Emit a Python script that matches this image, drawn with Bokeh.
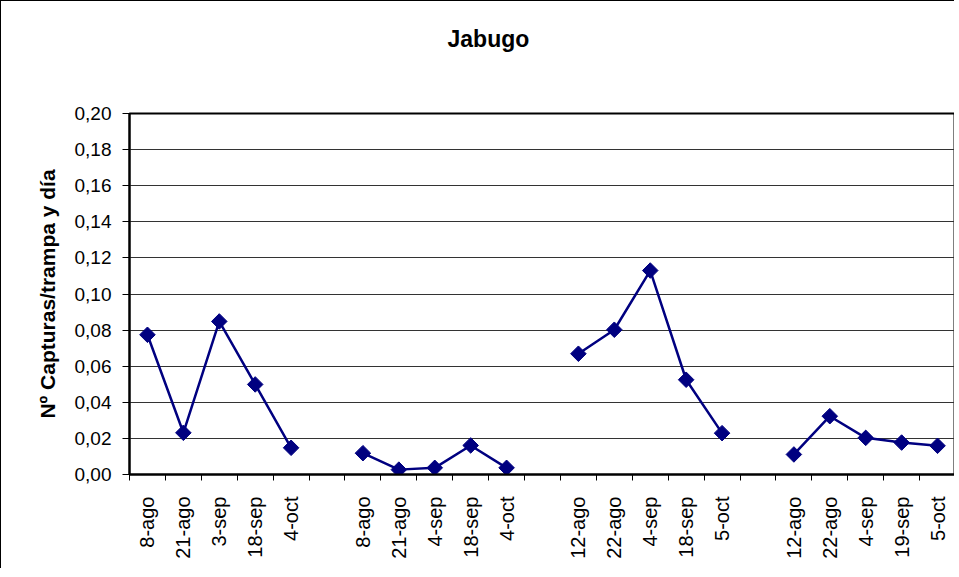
import math
from bokeh.plotting import figure
from bokeh.models import FixedTicker, CustomJSTickFormatter, Range1d, Title
from bokeh.embed import file_html
from bokeh.resources import INLINE

# ---------------- data ----------------
chart_title = "Jabugo"
y_label = "Nº Capturas/trampa y día"

group1_dates = ["8-ago", "21-ago", "3-sep", "18-sep", "4-oct"]
group1_vals = [0.0774, 0.0231, 0.0848, 0.0499, 0.0148]

group2_dates = ["8-ago", "21-ago", "4-sep", "18-sep", "4-oct"]
group2_vals = [0.0118, 0.0027, 0.0037, 0.0161, 0.0037]

group3_dates = ["12-ago", "22-ago", "4-sep", "18-sep", "5-oct"]
group3_vals = [0.0669, 0.0802, 0.1130, 0.0525, 0.0229]

group4_dates = ["12-ago", "22-ago", "4-sep", "19-sep", "5-oct"]
group4_vals = [0.0111, 0.0323, 0.0203, 0.0177, 0.0159]

y_ticks = [0.00, 0.02, 0.04, 0.06, 0.08, 0.10, 0.12, 0.14, 0.16, 0.18, 0.20]

groups = [(group1_dates, group1_vals), (group2_dates, group2_vals),
          (group3_dates, group3_vals), (group4_dates, group4_vals)]

# category slots: each group followed by one empty slot (except the last)
labels = []
group_x = []
for gi, (dates, vals) in enumerate(groups):
    xs = []
    for d in dates:
        xs.append(len(labels) + 0.5)
        labels.append(d)
    group_x.append(xs)
    if gi < len(groups) - 1:
        labels.append("")
n_slots = len(labels)

FONT = "Liberation Sans"
NAVY = "#000080"

p = figure(width=954, height=568, output_backend="svg", toolbar_location=None,
           x_range=Range1d(0, n_slots), y_range=Range1d(y_ticks[0], y_ticks[-1]),
           min_border_left=128, min_border_right=0, min_border_top=112,
           min_border_bottom=95)
p.styles = {"border-left": "1px solid black", "border-top": "1px solid black"}

p.background_fill_color = "white"
p.border_fill_color = "white"
p.outline_line_color = "black"
p.outline_line_width = 2

# spacer between title and frame
p.add_layout(Title(text=" ", text_font_size="1px", standoff=54), "above")

# title
p.title.text = chart_title
p.title.align = "left"
p.title.offset = 318
p.title.standoff = 10
p.title.text_font = FONT
p.title.text_font_size = "23px"
p.title.text_font_style = "bold"
p.title.text_color = "black"

# x axis
centers = [i + 0.5 for i in range(n_slots)]
bounds = list(range(n_slots + 1))
xax = p.xaxis[0]
xax.ticker = FixedTicker(ticks=centers, minor_ticks=bounds)
xax.major_label_overrides = {c: lab for c, lab in zip(centers, labels)}
xax.major_tick_out = 0
xax.major_tick_in = 0
xax.minor_tick_out = 6
xax.minor_tick_in = 0
xax.minor_tick_line_color = "black"
xax.axis_line_color = "black"
xax.axis_line_width = 2
xax.major_label_orientation = math.pi / 2
xax.major_label_standoff = 16
xax.major_label_text_font = FONT
xax.major_label_text_font_size = "20px"
xax.major_label_text_color = "black"

# y axis
yax = p.yaxis[0]
yax.ticker = FixedTicker(ticks=y_ticks, minor_ticks=[])
yax.formatter = CustomJSTickFormatter(code="return tick.toFixed(2).replace('.', ',');")
yax.major_tick_out = 7
yax.major_tick_in = 0
yax.major_tick_line_color = "black"
yax.axis_line_color = "black"
yax.axis_line_width = 2
yax.major_label_standoff = 11
yax.major_label_text_font = FONT
yax.major_label_text_font_size = "19px"
yax.major_label_text_color = "black"
yax.axis_label = y_label
yax.axis_label_text_font = FONT
yax.axis_label_text_font_size = "21px"
yax.axis_label_text_font_style = "bold"
yax.axis_label_text_color = "black"
yax.axis_label_standoff = 13

# grid
p.xgrid.grid_line_color = None
p.ygrid.grid_line_color = "#333333"
p.ygrid.grid_line_width = 1

# series
for xs, (dates, vals) in zip(group_x, groups):
    p.line(xs, vals, line_color=NAVY, line_width=2.5)
    p.scatter(xs, vals, marker="square", angle=math.pi / 4, size=11,
              fill_color=NAVY, line_color=NAVY)

open("out.html", "w").write(file_html(p, INLINE))
